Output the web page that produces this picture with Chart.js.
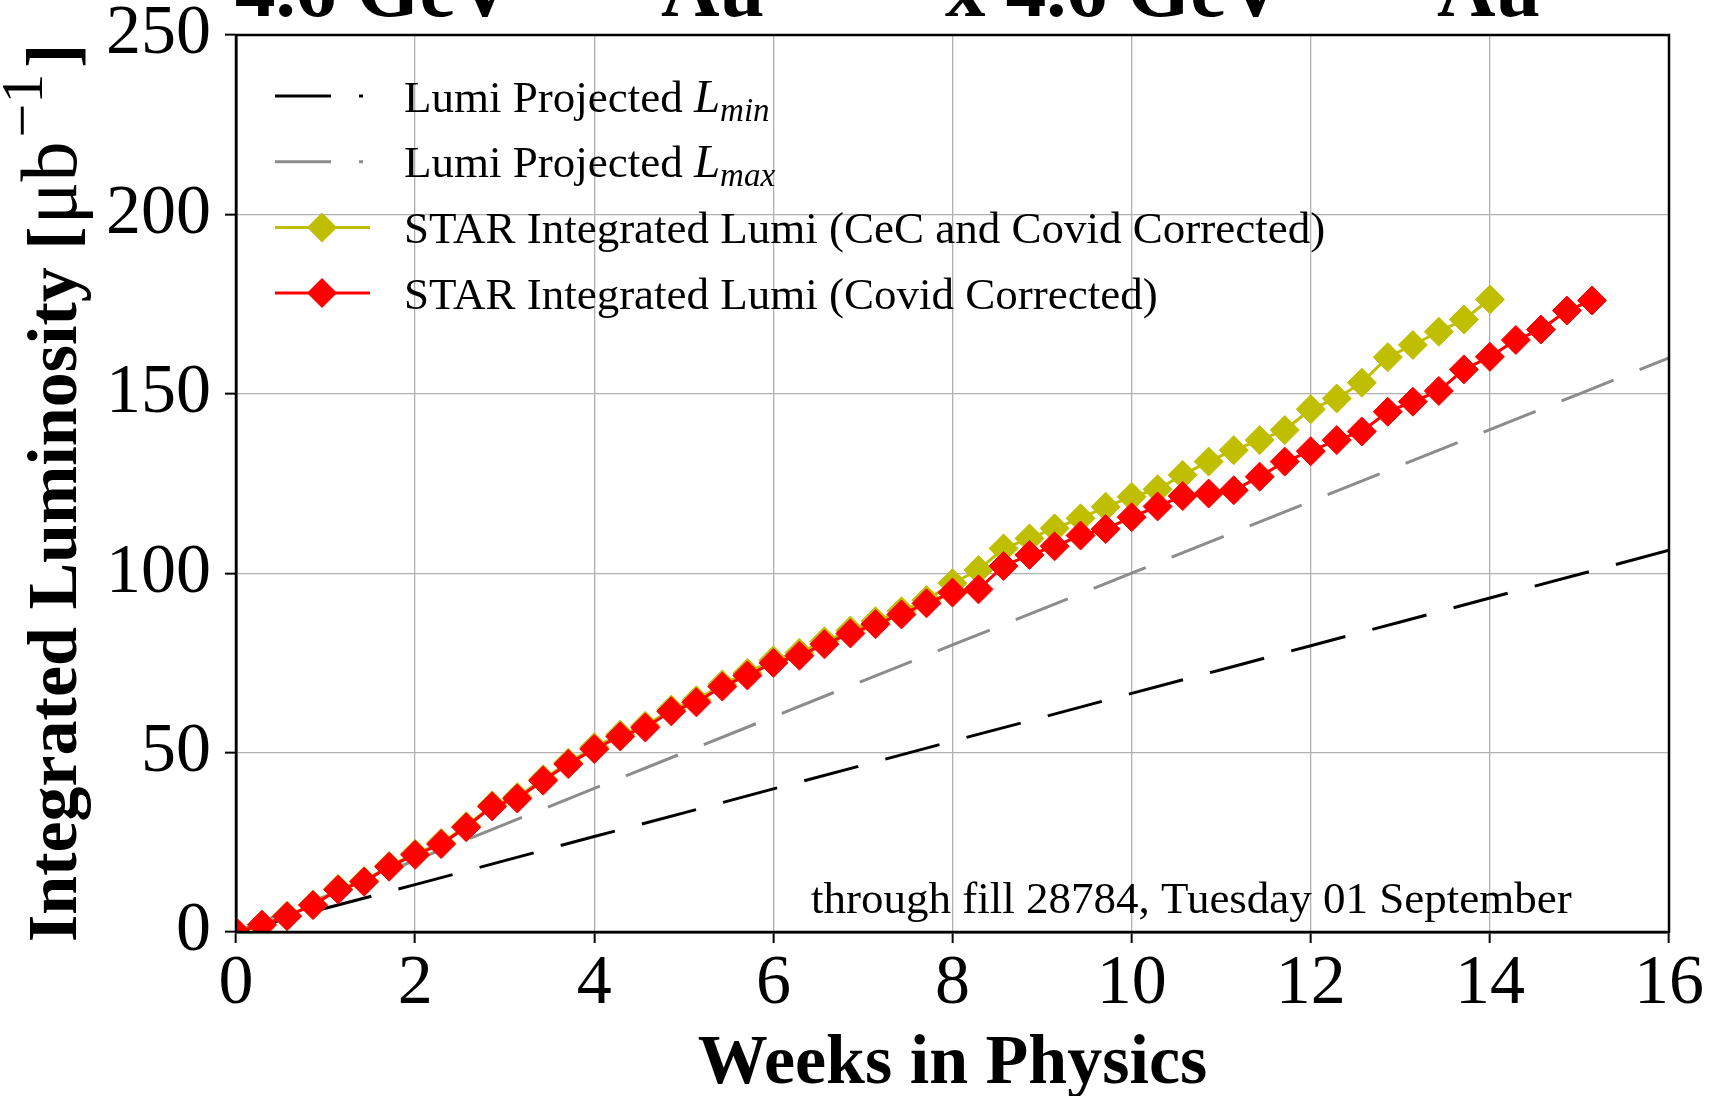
<!DOCTYPE html>
<html lang="en">
<head>
  <meta charset="UTF-8">
  <title>STAR Integrated Luminosity</title>
  <style>
    html, body { margin: 0; padding: 0; background: #fff; }
    canvas { display: block; }
  </style>
</head>
<body>
  <canvas id="lumi" width="1713" height="1096"></canvas>

  <script src="https://cdn.jsdelivr.net/npm/chart.js"></script>
  <script>
    // Weeks in physics (one point every two days)
    const weeks = [0, 0.29, 0.57, 0.86, 1.14, 1.43, 1.71, 2.0, 2.29, 2.57,
      2.86, 3.14, 3.43, 3.71, 4.0, 4.29, 4.57, 4.86, 5.14, 5.43,
      5.71, 6.0, 6.29, 6.57, 6.86, 7.14, 7.43, 7.71, 8.0, 8.29,
      8.57, 8.86, 9.14, 9.43, 9.71, 10.0, 10.29, 10.57, 10.86, 11.14,
      11.43, 11.71, 12.0, 12.29, 12.57, 12.86, 13.14, 13.43, 13.71, 14.0,
      14.29, 14.57, 14.86, 15.14];

    // STAR Integrated Lumi (Covid Corrected)
    const covidCorrected = [0, 2, 4.4, 7.5, 11.8, 14, 18.2, 21.5, 24.5, 29.2,
      35, 37.2, 42.2, 46.8, 51, 54.5, 57, 61.5, 64, 68.4,
      71.5, 75, 77, 80.2, 83.2, 85.8, 88.5, 91.6, 94.6, 95.5,
      102, 105.1, 107.5, 110.5, 112.3, 115.6, 118.6, 121.5, 122.2, 123.1,
      126.9, 131.1, 134, 137.1, 139.5, 145, 147.8, 150.8, 156.8, 160.3,
      165, 167.9, 173.2, 176];

    // STAR Integrated Lumi (CeC and Covid Corrected)
    const cecCovidCorrected = [0, 2, 4.5, 7.6, 12, 14.2, 18.4, 21.8, 24.8, 29.5,
      35.3, 37.6, 42.6, 47.2, 51.5, 55, 57.5, 62, 64.6, 69,
      72.2, 75.7, 77.8, 81, 84, 86.6, 89.4, 92.5, 97.2, 100.9,
      106.9, 109.7, 112.5, 115.3, 118.5, 121.3, 123.4, 127.4, 131.1, 134.3,
      137.1, 139.9, 145.7, 148.7, 153.1, 160.2, 163.6, 167.3, 170.7, 176.3];

    // Projections, one value per week
    const projWeeks = [0, 1, 2, 3, 4, 5, 6, 7, 8, 9, 10, 11, 12, 13, 14, 15, 16];
    const lumiMin = [0, 6.6, 13.2, 19.9, 26.6, 33.2, 39.9, 46.5, 53.2, 59.8,
      66.5, 73.1, 79.8, 86.4, 93.1, 99.7, 106.4];
    const lumiMax = [0, 10, 20, 30, 40, 50, 60, 70, 80, 90,
      100, 110, 120, 130, 140, 150, 160];

    const xTicks = [0, 2, 4, 6, 8, 10, 12, 14, 16];
    const yTicks = [0, 50, 100, 150, 200, 250];

    const serif = '"Liberation Serif", "Times New Roman", serif';
    const DASH = [56, 28];

    const toXY = (xs, ys) => ys.map((y, i) => ({ x: xs[i], y: y }));

    // legend label pieces: [text, style, size, shift]
    const legendParts = [
      [["Lumi Projected ", "", 45, 0], ["L", "italic", 47, 0], ["min", "italic", 33, 9]],
      [["Lumi Projected ", "", 45, 0], ["L", "italic", 47, 0], ["max", "italic", 33, 9]],
      [["STAR Integrated Lumi (CeC and Covid Corrected)", "", 45, 0]],
      [["STAR Integrated Lumi (Covid Corrected)", "", 45, 0]]
    ];

    function drawParts(ctx, parts, x, y, family) {
      parts.forEach(p => {
        ctx.font = p[1] + " " + p[2] + "px " + family;
        ctx.fillText(p[0], x, y + p[3]);
        x += ctx.measureText(p[0]).width;
      });
      return x;
    }

    // keep the plot box where the layout padding puts it
    function noScalePadding(s) {
      s.paddingTop = 0;
      s.paddingBottom = 0;
      s.paddingLeft = 0;
      s.paddingRight = 0;
    }

    const decorations = {
      id: "decorations",
      afterDraw(chart) {
        const ctx = chart.ctx;
        const a = chart.chartArea;
        ctx.save();

        // frame (all four spines)
        ctx.strokeStyle = "#000";
        ctx.lineWidth = 2.5;
        ctx.strokeRect(a.left, a.top, a.right - a.left, a.bottom - a.top);

        ctx.fillStyle = "#000";
        ctx.textAlign = "left";
        ctx.textBaseline = "alphabetic";

        // clipped title at the very top
        drawParts(ctx, [["4.6 GeV", "bold", 81, 0]], 235, 16, serif);
        drawParts(ctx, [["Au", "bold", 81, 0]], 661, 16, serif);
        drawParts(ctx, [["x 4.6 GeV", "bold", 81, 0]], 945, 16, serif);
        drawParts(ctx, [["Au", "bold", 81, 0]], 1437, 16, serif);

        // y axis title
        ctx.save();
        ctx.translate(76, 942);
        ctx.rotate(-Math.PI / 2);
        let yx = drawParts(ctx, [["Integrated Luminosity [", "bold", 70, 0]], 0, 0, serif);
        yx = drawParts(ctx, [["\u03bcb", "", 80, 0]], yx + 2, 0, serif);
        yx = drawParts(ctx, [["\u22121", "", 60, -34]], yx + 4, 0, serif);
        drawParts(ctx, [["]", "bold", 72, 0]], yx + 6, 0, serif);
        ctx.restore();

        // x axis title
        ctx.font = "bold 70px " + serif;
        ctx.textAlign = "center";
        ctx.fillText("Weeks in Physics", (a.left + a.right) / 2, 1083);

        // annotation
        ctx.textAlign = "left";
        ctx.font = "45px " + serif;
        ctx.fillText("through fill 28784, Tuesday 01 September", 811, 913);

        // legend (no frame)
        const order = [3, 2, 1, 0];
        order.forEach((dsIndex, row) => {
          const ds = chart.data.datasets[dsIndex];
          const cy = 96 + row * 65.7;
          ctx.save();
          ctx.strokeStyle = ds.borderColor;
          ctx.lineWidth = ds.borderWidth;
          ctx.setLineDash(ds.borderDash || []);
          ctx.beginPath();
          ctx.moveTo(275, cy);
          ctx.lineTo(ds.borderDash ? 363 : 370, cy);
          ctx.stroke();
          ctx.setLineDash([]);
          if (ds.pointRadius > 0) {
            const r = 15;
            ctx.fillStyle = ds.pointBackgroundColor;
            ctx.beginPath();
            ctx.moveTo(322 - r, cy);
            ctx.lineTo(322, cy - r);
            ctx.lineTo(322 + r, cy);
            ctx.lineTo(322, cy + r);
            ctx.closePath();
            ctx.fill();
          }
          ctx.restore();
          ctx.fillStyle = "#000";
          ctx.textAlign = "left";
          drawParts(ctx, legendParts[row], 404, cy + 15.5, serif);
        });

        ctx.restore();
      }
    };

    new Chart(document.getElementById("lumi"), {
      type: "line",
      data: {
        datasets: [
          {
            label: "STAR Integrated Lumi (Covid Corrected)",
            data: toXY(weeks, covidCorrected),
            borderColor: "#ff0000",
            backgroundColor: "#ff0000",
            pointBackgroundColor: "#ff0000",
            pointBorderColor: "#ff0000",
            borderWidth: 3,
            pointStyle: "rectRot",
            pointRadius: 14.5,
            pointBorderWidth: 1,
            clip: 0,
            order: 1
          },
          {
            label: "STAR Integrated Lumi (CeC and Covid Corrected)",
            data: toXY(weeks, cecCovidCorrected),
            borderColor: "#bfbf00",
            backgroundColor: "#bfbf00",
            pointBackgroundColor: "#bfbf00",
            pointBorderColor: "#bfbf00",
            borderWidth: 3,
            pointStyle: "rectRot",
            pointRadius: 14.5,
            pointBorderWidth: 1,
            clip: 0,
            order: 2
          },
          {
            label: "Lumi Projected Lmax",
            data: toXY(projWeeks, lumiMax),
            borderColor: "#8c8c8c",
            borderWidth: 3,
            borderDash: DASH,
            pointRadius: 0,
            clip: 0,
            order: 3
          },
          {
            label: "Lumi Projected Lmin",
            data: toXY(projWeeks, lumiMin),
            borderColor: "#000000",
            borderWidth: 3,
            borderDash: DASH,
            pointRadius: 0,
            clip: 0,
            order: 4
          }
        ]
      },
      options: {
        responsive: false,
        animation: false,
        devicePixelRatio: 1,
        layout: { padding: { top: 35, right: 44, bottom: 0, left: 0 } },
        plugins: {
          legend: { display: false },
          title: { display: false },
          tooltip: { enabled: false }
        },
        scales: {
          x: {
            type: "linear",
            min: 0,
            max: 16,
            afterFit: s => { s.height = 164; noScalePadding(s); },
            afterBuildTicks: s => { s.ticks = xTicks.map(v => ({ value: v })); },
            ticks: {
              color: "#000",
              font: { family: serif, size: 70 },
              padding: 0,
              maxRotation: 0
            },
            grid: { color: "#b0b0b0", lineWidth: 1.3, tickColor: "#000", tickLength: 11, tickWidth: 2 },
            border: { color: "#000", width: 2.5 }
          },
          y: {
            min: 0,
            max: 250,
            afterFit: s => { s.width = 236; noScalePadding(s); },
            afterBuildTicks: s => { s.ticks = yTicks.map(v => ({ value: v })); },
            ticks: {
              color: "#000",
              font: { family: serif, size: 70, lineHeight: 0.9 },
              padding: 14
            },
            grid: { color: "#b0b0b0", lineWidth: 1.3, tickColor: "#000", tickLength: 11, tickWidth: 2 },
            border: { color: "#000", width: 2.5 }
          }
        }
      },
      plugins: [decorations]
    });
  </script>
</body>
</html>
